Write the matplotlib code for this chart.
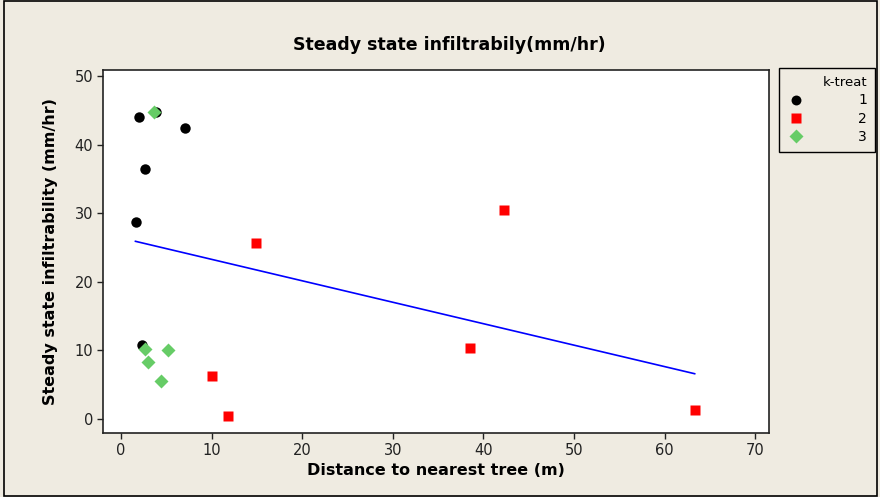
import matplotlib.pyplot as plt
from matplotlib.patches import Rectangle

# k-treat 1
x1 = [2.0, 3.9, 7.1, 2.7, 1.7, 2.3]
y1 = [44.0, 44.7, 42.4, 36.4, 28.7, 10.8]
# k-treat 2
x2 = [14.9, 42.3, 38.5, 63.3, 10.0, 11.8]
y2 = [25.7, 30.4, 10.3, 1.3, 6.2, 0.5]
# k-treat 3
x3 = [3.6, 2.7, 5.2, 3.0, 4.4]
y3 = [44.8, 10.2, 10.1, 8.3, 5.6]
# fitted line end points
fit_x = [1.6, 63.3]
fit_y = [25.9, 6.6]

bg = '#efebe1'
fig = plt.figure(figsize=(8.8, 4.97), dpi=100, facecolor=bg)
ax = fig.add_axes([103/880, 1-433/497, (769-103)/880, (433-70)/497])
ax.set_facecolor('white')

ax.plot(fit_x, fit_y, color='#0000ff', lw=1.2, zorder=2)
ax.plot(x1, y1, 'o', color='black', ms=7.5, mec='none', label='1', zorder=3)
ax.plot(x2, y2, 's', color='#ff0000', ms=7.5, mec='none', label='2', zorder=3)
ax.plot(x3, y3, 'D', color='#66cc66', ms=7.5, mec='none', label='3', zorder=4)

ax.set_xlim(-1.98, 71.5)
ax.set_ylim(-2.04, 50.87)
ax.set_xticks(range(0, 71, 10))
ax.set_yticks(range(0, 51, 10))
ax.tick_params(direction='out', length=4, width=1, labelsize=10.5, pad=3, colors='#222222')
for s in ax.spines.values():
    s.set_linewidth(1.2)
    s.set_edgecolor('#222222')

fig.text(449/880, 1-45/497, 'Steady state infiltrabily(mm/hr)', ha='center', va='center',
         fontsize=12.5, fontweight='bold')
ax.set_xlabel('Distance to nearest tree (m)', fontsize=11.5, fontweight='bold', labelpad=4)
ax.set_ylabel('Steady state infiltrability (mm/hr)', fontsize=11.5, fontweight='bold', labelpad=12)

leg = fig.legend(loc='upper left', bbox_to_anchor=(779/880, 1-68/497), borderaxespad=0,
                 title='k-treat', alignment='right', frameon=True, fancybox=False,
                 edgecolor='black', facecolor=bg, framealpha=1, fontsize=10,
                 title_fontsize=9.5, handletextpad=3.9, borderpad=0.6, labelspacing=0.3,
                 handlelength=1.2, markerscale=0.95)
leg.get_frame().set_linewidth(1.0)

fig.patches.append(Rectangle((0.004, 0.003), 0.993, 0.995, transform=fig.transFigure,
                             fill=False, edgecolor='black', lw=1.2))

fig.savefig('out.png', dpi=100, facecolor=bg)
